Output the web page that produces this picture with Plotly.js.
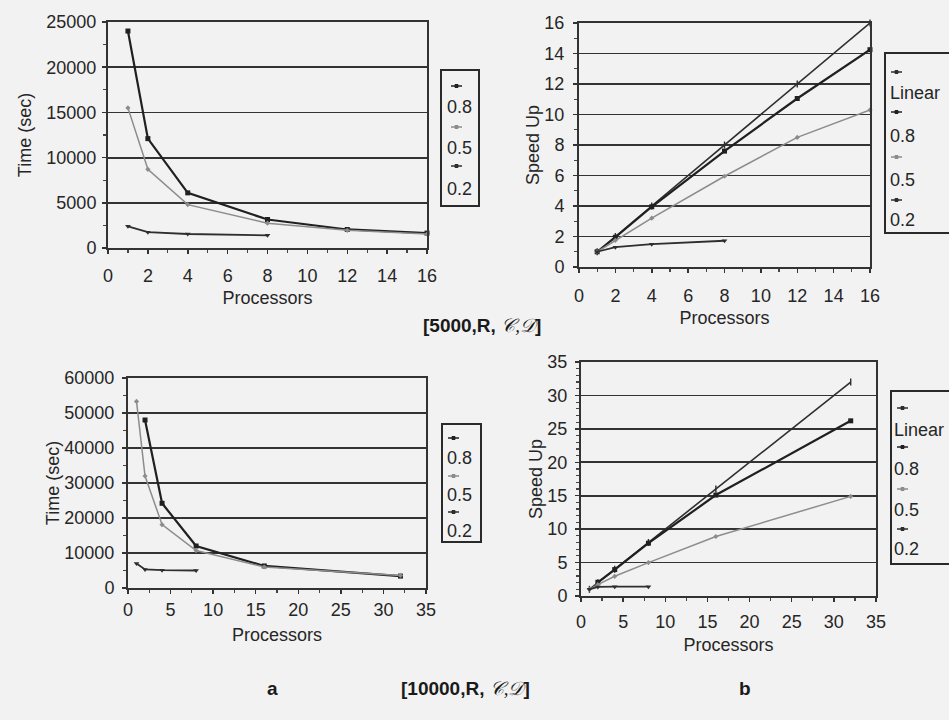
<!DOCTYPE html>
<html><head><meta charset="utf-8">
<script src="https://cdn.plot.ly/plotly-3.0.1.min.js"></script>
<style>html,body{margin:0;padding:0;background:#f2f2f2;}</style>
</head><body><div id="chart" style="width:949px;height:720px;"></div>
<script>
// ---------- DATA ----------
// Problem size 5000 (top row)
const procs5k = [1, 2, 4, 8, 12, 16];
const procs5k_02 = [1, 2, 4, 8];
const time5k_08 = [24000, 12100, 6100, 3150, 2050, 1650];
const time5k_05 = [15500, 8700, 4800, 2750, 1950, 1550];
const time5k_02 = [2400, 1750, 1550, 1400];
const linear5k = [1, 2, 4, 8, 12, 16];
const speed5k_08 = [1, 1.95, 3.95, 7.6, 11.05, 14.25];
const speed5k_05 = [1, 1.75, 3.2, 5.95, 8.5, 10.3];
const speed5k_02 = [1, 1.3, 1.5, 1.72];

// Problem size 10000 (bottom row)
const procs10k = [1, 2, 4, 8, 16, 32];
const procs10k_08 = [2, 4, 8, 16, 32];
const procs10k_02 = [1, 2, 4, 8];
const time10k_08 = [48000, 24200, 12000, 6300, 3400];
const time10k_05 = [53300, 32000, 18100, 10700, 6000, 3600];
const time10k_02 = [7000, 5300, 5100, 5000];
const linear10k = [1, 2, 4, 8, 16, 32];
const speed10k_08 = [2.05, 3.95, 7.9, 15.1, 26.2];
const speed10k_05 = [1, 1.7, 2.95, 5.0, 8.9, 14.9];
const speed10k_02 = [1, 1.35, 1.4, 1.4];

const seriesNames = ['Linear', '0.8', '0.5', '0.2'];

// ---------- STYLE ----------
const W = 949, H = 720;
const px = x => x / W;
const py = y => 1 - y / H;
const FONT = 'Liberation Sans, Arial, sans-serif';
const INK = '#262626';
const FS = 18;
const sty = {
  'Linear': {line: {color: '#2e2e2e', width: 1.6}, marker: {symbol: 'line-ns-open', size: 5, line: {width: 1.4, color: '#2e2e2e'}}},
  '0.8': {line: {color: '#202020', width: 2.2}, marker: {symbol: 'square', size: 5, color: '#202020'}},
  '0.5': {line: {color: '#8c8c8c', width: 1.5}, marker: {symbol: 'diamond', size: 4, color: '#8c8c8c'}},
  '0.2': {line: {color: '#2e2e2e', width: 1.8}, marker: {symbol: 'triangle-down', size: 5, color: '#2e2e2e'}}
};
function tr(x, y, name, xa, ya) {
  const s = sty[name];
  return {type: 'scatter', mode: 'lines+markers', x: x, y: y, name: name, xaxis: xa, yaxis: ya,
    line: s.line, marker: s.marker, showlegend: false, cliponaxis: false};
}

const traces = [
  tr(procs5k, time5k_08, '0.8', 'x', 'y'),
  tr(procs5k, time5k_05, '0.5', 'x', 'y'),
  tr(procs5k_02, time5k_02, '0.2', 'x', 'y'),
  tr(procs5k, linear5k, 'Linear', 'x2', 'y2'),
  tr(procs5k, speed5k_08, '0.8', 'x2', 'y2'),
  tr(procs5k, speed5k_05, '0.5', 'x2', 'y2'),
  tr(procs5k_02, speed5k_02, '0.2', 'x2', 'y2'),
  tr(procs10k_08, time10k_08, '0.8', 'x3', 'y3'),
  tr(procs10k, time10k_05, '0.5', 'x3', 'y3'),
  tr(procs10k_02, time10k_02, '0.2', 'x3', 'y3'),
  tr(procs10k, linear10k, 'Linear', 'x4', 'y4'),
  tr(procs10k_08, speed10k_08, '0.8', 'x4', 'y4'),
  tr(procs10k, speed10k_05, '0.5', 'x4', 'y4'),
  tr(procs10k_02, speed10k_02, '0.2', 'x4', 'y4')
];

function axis(isY, dom, range, dtick, minorDtick, anchor, title, standoff, lblStand) {
  return {
    domain: dom, range: range, dtick: dtick, tick0: 0, anchor: anchor, autorange: false, fixedrange: true,
    tickformat: 'd',
    showline: true, linecolor: '#333', linewidth: 2, mirror: true,
    ticks: 'outside', ticklen: 4, tickwidth: 1.5, tickcolor: '#333',
    minor: {dtick: minorDtick, tick0: 0, ticks: 'outside', ticklen: 3, tickwidth: 1.2, tickcolor: '#444', showgrid: false},
    showgrid: isY, gridcolor: '#333', gridwidth: 1.8,
    zeroline: false, ticklabelstandoff: lblStand,
    tickfont: {family: FONT, size: FS, color: INK},
    title: {text: title, standoff: standoff, font: {family: FONT, size: FS, color: INK}},
    automargin: false
  };
}

const layout = {
  width: W, height: H, margin: {l: 0, r: 0, t: 0, b: 0},
  paper_bgcolor: '#f2f2f2', plot_bgcolor: '#f2f2f2', showlegend: false,
  font: {family: FONT, size: FS, color: INK},
  xaxis: axis(false, [px(108), px(427)], [0, 16], 2, 1, 'y', 'Processors', 7, 6),
  yaxis: axis(true, [py(248), py(22)], [0, 25000], 5000, 2500, 'x', 'Time (sec)', 10, 2),
  xaxis2: axis(false, [px(579), px(870)], [0, 16], 2, 1, 'y2', 'Processors', 7, 7),
  yaxis2: axis(true, [py(267), py(23)], [0, 16], 2, 1, 'x2', 'Speed Up', 0, 5),
  xaxis3: axis(false, [px(128), px(426)], [0, 35], 5, 2.5, 'y3', 'Processors', 10, 0),
  yaxis3: axis(true, [py(588), py(378)], [0, 60000], 10000, 5000, 'x3', 'Time (sec)', 0, 4),
  xaxis4: axis(false, [px(581), px(876)], [0, 35], 5, 2.5, 'y4', 'Processors', 8, 4),
  yaxis4: axis(true, [py(596), py(362)], [0, 35], 5, 1, 'x4', 'Speed Up', 0, 4),
  shapes: [], annotations: []
};

// ---------- Legends (drawn Excel-style: sample above label) ----------
function legend(box, entries) {
  layout.shapes.push({type: 'rect', xref: 'paper', yref: 'paper',
    x0: px(box[0]), x1: px(box[1]), y0: py(box[3]), y1: py(box[2]),
    line: {color: '#2a2a2a', width: 2}, fillcolor: 'rgba(0,0,0,0)'});
  entries.forEach(e => {
    const s = sty[e.name];
    const c = s.line.color;
    layout.shapes.push({type: 'line', xref: 'paper', yref: 'paper',
      x0: px(e.sx), x1: px(e.sx + 11), y0: py(e.sy), y1: py(e.sy),
      line: {color: c, width: 1.5}});
    layout.shapes.push({type: 'rect', xref: 'paper', yref: 'paper',
      x0: px(e.sx + 4), x1: px(e.sx + 7), y0: py(e.sy + 1.5), y1: py(e.sy - 1.5),
      line: {color: c, width: 1}, fillcolor: c});
    layout.annotations.push({xref: 'paper', yref: 'paper', x: px(e.tx), y: py(e.ty),
      xanchor: 'left', yanchor: 'middle', text: e.name, showarrow: false,
      font: {family: FONT, size: FS, color: INK}});
  });
}
legend([441, 479, 70, 206], [
  {name: '0.8', sx: 451, sy: 86, tx: 445, ty: 107},
  {name: '0.5', sx: 451, sy: 127, tx: 445, ty: 148},
  {name: '0.2', sx: 451, sy: 166, tx: 445, ty: 189}
]);
legend([885, 952, 53, 233], [
  {name: 'Linear', sx: 891, sy: 72, tx: 888, ty: 93},
  {name: '0.8', sx: 891, sy: 112, tx: 888, ty: 136},
  {name: '0.5', sx: 891, sy: 157, tx: 888, ty: 180},
  {name: '0.2', sx: 891, sy: 200, tx: 888, ty: 220}
]);
legend([442, 481, 424, 542], [
  {name: '0.8', sx: 448, sy: 438, tx: 445, ty: 458},
  {name: '0.5', sx: 448, sy: 476, tx: 445, ty: 495},
  {name: '0.2', sx: 448, sy: 512, tx: 445, ty: 531}
]);
legend([891, 952, 391, 564], [
  {name: 'Linear', sx: 897, sy: 408, tx: 892, ty: 430},
  {name: '0.8', sx: 897, sy: 447, tx: 892, ty: 469},
  {name: '0.5', sx: 897, sy: 489, tx: 892, ty: 510},
  {name: '0.2', sx: 897, sy: 529, tx: 892, ty: 549}
]);

// ---------- Captions ----------
const cap = (text, x, y, opts) => layout.annotations.push(Object.assign({xref: 'paper', yref: 'paper',
  x: px(x), y: py(y), xanchor: 'center', yanchor: 'middle', text: text, showarrow: false,
  font: {family: FONT, size: 19, color: '#1a1a1a'}}, opts || {}));
const SCRIPT = '<i><span style="font-family:\'Liberation Serif\',serif;font-weight:normal">\uD835\uDC9E,\uD835\uDC9F</span></i>';
cap('<b>[5000,R, </b>' + SCRIPT + '<b>]</b>', 482, 326);
cap('<b>[10000,R, </b>' + SCRIPT + '<b>]</b>', 465, 688);
cap('<b>a</b>', 272, 688);
cap('<b>b</b>', 745, 688);

Plotly.newPlot('chart', traces, layout, {displayModeBar: false, staticPlot: true});
</script></body></html>
